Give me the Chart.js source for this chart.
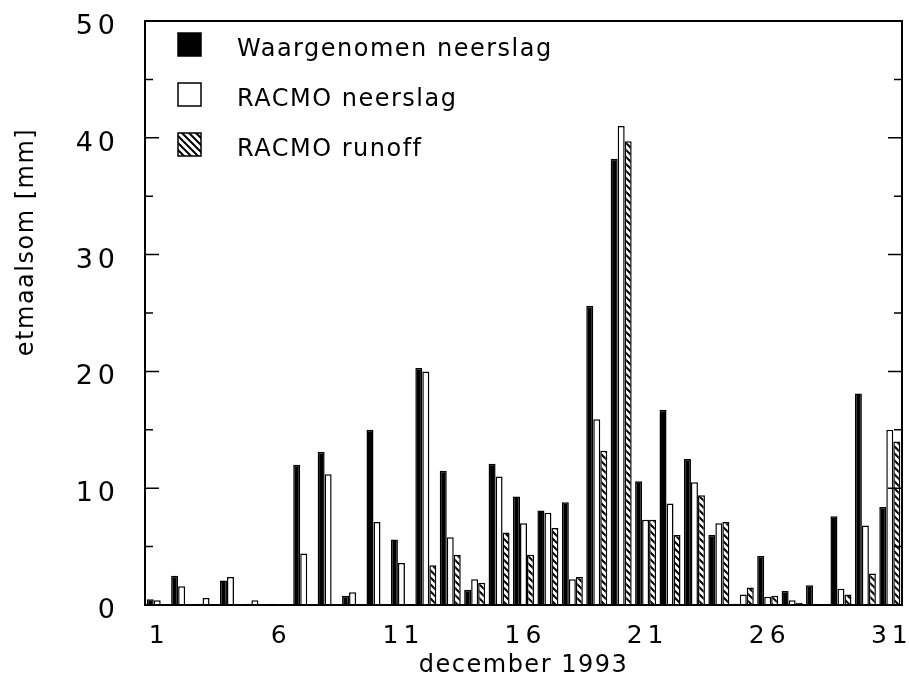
<!DOCTYPE html>
<html>
<head>
<meta charset="utf-8">
<title>etmaalsom december 1993</title>
<script src="https://cdn.jsdelivr.net/npm/chart.js@4.4.1/dist/chart.umd.min.js"></script>
<style>
  html, body { margin: 0; padding: 0; background: #fff; }
  #grafico { display: block; }
</style>
</head>
<body>
<canvas id="grafico" width="909" height="687"></canvas>
<script>
// dagen van december 1993
var dagen = ['1', '2', '3', '4', '5', '6', '7', '8', '9', '10', '11', '12', '13', '14', '15', '16',
             '17', '18', '19', '20', '21', '22', '23', '24', '25', '26', '27', '28', '29', '30', '31'];
// alleen deze dagen krijgen een label op de x-as
var xTickLabels = ['1', '6', '11', '16', '21', '26', '31'];

// etmaalsom in mm, per dag
var waargenomen = [0.5, 2.5, 0.1, 2.1, 0.1, 0.1, 12.0, 13.1, 0.8, 15.0, 5.6, 20.3, 11.5, 1.3, 12.1, 9.3,
                   8.1, 8.8, 25.6, 38.2, 10.6, 16.7, 12.5, 6.0, 0.1, 4.2, 1.2, 1.7, 7.6, 18.1, 8.4];
var racmoNeerslag = [0.4, 1.6, 0.6, 2.4, 0.4, 0.05, 4.4, 11.2, 1.1, 7.1, 3.6, 20.0, 5.8, 2.2, 11.0, 7.0,
                     7.9, 2.2, 15.9, 41.0, 7.3, 8.7, 10.5, 7.0, 0.9, 0.7, 0.4, 0.1, 1.4, 6.8, 15.0];
// runoff pas vanaf 12 december
var racmoRunoff = [null, null, null, null, null, null, null, null, null, null, null, 3.4, 4.3, 1.9, 6.2, 4.3,
                   6.6, 2.4, 13.2, 39.7, 7.3, 6.0, 9.4, 7.1, 1.5, 0.8, 0.2, 0.05, 0.9, 2.7, 14.0];

var reeksNamen = ['Waargenomen neerslag', 'RACMO neerslag', 'RACMO runoff'];
var yTitel = 'etmaalsom [mm]';
var xTitel = 'december 1993';
var yMin = 0;
var yMax = 50;

var lettertype = '"DejaVu Sans", Verdana, sans-serif';

var canvas = document.getElementById('grafico');
var ctx = canvas.getContext('2d');

// arcering "\\\" voor de runoff
function maakArcering() {
  var c = document.createElement('canvas');
  c.width = 7;
  c.height = 7;
  var g = c.getContext('2d');
  g.fillStyle = '#fff';
  g.fillRect(0, 0, 7, 7);
  g.strokeStyle = '#000';
  g.lineWidth = 2;
  g.beginPath();
  for (var k = -1; k <= 1; k++) {
    g.moveTo(-1, -1 + 7 * k);
    g.lineTo(8, 8 + 7 * k);
  }
  g.stroke();
  return ctx.createPattern(c, 'repeat');
}
var arcering = maakArcering();

// kader, tickjes naar binnen, legenda en y-titel
var kader = {
  id: 'kader',
  beforeDraw: function(chart) {
    // titels iets gespatieerd
    chart.ctx.letterSpacing = '1.5px';
  },
  afterDatasetsDraw: function(chart) {
    // de cijfers langs de assen staan wijder
    chart.ctx.letterSpacing = '5px';
  },
  afterDraw: function(chart) {
    var c = chart.ctx;
    var sx = chart.scales.x;
    var sy = chart.scales.y;
    var links = sx.left, rechts = sx.right, boven = sy.top, onder = sy.bottom;
    c.save();
    c.letterSpacing = '1.5px';
    c.strokeStyle = '#000';
    c.lineWidth = 2;
    c.strokeRect(links, boven, rechts - links, onder - boven);
    c.lineWidth = 1.5;
    for (var v = yMin; v <= yMax; v += 5) {
      var py = sy.getPixelForValue(v);
      var lengte = v % 10 === 0 ? 14 : 8;
      c.beginPath();
      c.moveTo(links, py);
      c.lineTo(links + lengte, py);
      c.moveTo(rechts, py);
      c.lineTo(rechts - lengte, py);
      c.stroke();
    }

    // legenda
    c.font = '24px ' + lettertype;
    c.textAlign = 'left';
    c.textBaseline = 'alphabetic';
    chart.data.datasets.forEach(function(ds, i) {
      var y0 = 33 + i * 50;
      c.fillStyle = ds.backgroundColor;
      c.fillRect(178, y0, 23, 23);
      c.lineWidth = 1.5;
      c.strokeRect(178, y0, 23, 23);
      c.fillStyle = '#000';
      c.fillText(ds.label, 237, y0 + 23);
    });

    // y-titel
    c.translate(33, 242);
    c.rotate(-Math.PI / 2);
    c.font = '24px ' + lettertype;
    c.textAlign = 'center';
    c.fillText(yTitel, 0, 0);
    c.restore();
  }
};

var grafico = new Chart(ctx, {
  type: 'bar',
  data: {
    labels: dagen,
    datasets: [{
      label: reeksNamen[0],
      data: waargenomen,
      backgroundColor: '#000',
      borderColor: '#000',
      borderWidth: 1.5
    }, {
      label: reeksNamen[1],
      data: racmoNeerslag,
      backgroundColor: '#fff',
      borderColor: '#000',
      borderWidth: 1.5
    }, {
      label: reeksNamen[2],
      data: racmoRunoff,
      backgroundColor: arcering,
      borderColor: '#000',
      borderWidth: 1.5
    }]
  },
  options: {
    responsive: false,
    devicePixelRatio: 1,
    animation: false,
    layout: { padding: { left: 0, right: 7, top: 21, bottom: 0 } },
    datasets: {
      bar: { categoryPercentage: 0.86, barPercentage: 1.0 }
    },
    plugins: {
      legend: { display: false },
      tooltip: { enabled: false }
    },
    scales: {
      x: {
        grid: { display: false },
        border: { display: false },
        ticks: {
          z: 1,
          autoSkip: false,
          maxRotation: 0,
          padding: 8,
          labelOffset: 2,
          color: '#000',
          font: { family: lettertype, size: 25 },
          callback: function(value) {
            var lab = this.getLabelForValue(value);
            return xTickLabels.indexOf(lab) >= 0 ? lab : '';
          }
        },
        title: {
          display: true,
          text: xTitel,
          color: '#000',
          font: { family: lettertype, size: 24 },
          padding: { top: 0, bottom: 7 }
        },
        afterFit: function(scale) {
          scale.height = 82;
          scale.paddingLeft = 0;
          scale.paddingRight = 0;
        }
      },
      y: {
        min: yMin,
        max: yMax,
        grid: { display: false },
        border: { display: false },
        ticks: {
          z: 1,
          stepSize: 10,
          padding: 17,
          labelOffset: 6,
          color: '#000',
          font: { family: lettertype, size: 27 }
        },
        afterFit: function(scale) {
          scale.width = 145;
          scale.paddingTop = 0;
          scale.paddingBottom = 0;
        }
      }
    }
  },
  plugins: [kader]
});
</script>
</body>
</html>
